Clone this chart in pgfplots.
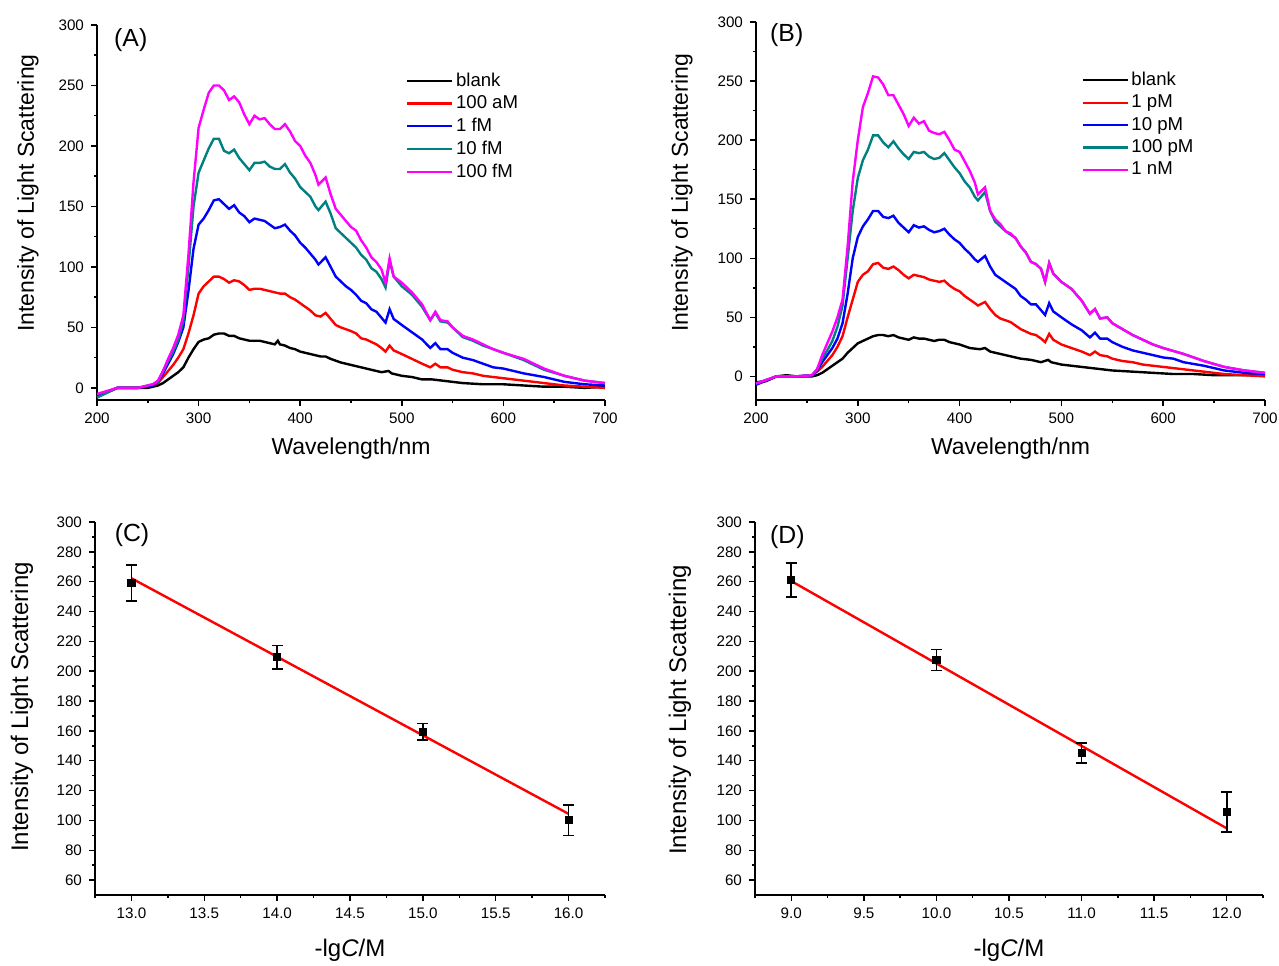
\documentclass[border=0pt]{standalone}
\usepackage{fontspec}
\setmainfont{Liberation Sans}
\usepackage{pgfplots}
\pgfplotsset{compat=1.18}

\definecolor{cteal}{RGB}{0,128,128}
\definecolor{cmag}{RGB}{255,0,255}

\pgfplotsset{
  panel/.style={
    scale only axis,
    axis lines=left,
    axis line style={-, line width=0.75pt, black},
    tick align=outside,
    tick style={black, line width=0.75pt},
    major tick length=3pt,
    minor tick length=1.6pt,
    minor x tick num=1,
    minor y tick num=1,
    enlargelimits=false,
    /pgf/number format/assume math mode=true,
    tick label style={font=\fontsize{7.6}{8}\selectfont},
    label style={font=\fontsize{11.5}{13}\selectfont},
    ylabel={Intensity of Light Scattering},
    clip=false,
  },
  spec/.style={
    panel,
    xmin=200, xmax=700, xtick={200,300,...,700},
    ytick={0,50,...,300},
    xlabel={Wavelength/nm},
    legend style={draw=none, fill=none, inner sep=0pt, row sep=2pt,
      font=\fontsize{9.3}{10}\selectfont, nodes={inner ysep=0.6pt, inner xsep=1.2pt}},
    legend cell align=left,
    legend image code/.code={\draw[##1, line width=1.2pt] (0pt,0pt) -- (22.5pt,0pt);},
  },
  calib/.style={
    panel,
    ymin=50, ymax=300, ytick={60,80,...,300},
    xtick distance=0.5,
    xticklabel style={/pgf/number format/.cd, fixed, fixed zerofill, precision=1},
    xlabel={-lg\textit{C}/M},
    label style={font=\fontsize{12}{14}\selectfont},
  },
  sline/.style={line width=1.2pt},
  pts/.style={only marks, mark=square*, mark size=1.8pt, black,
    error bars/.cd, y dir=both, y explicit,
    error bar style={line width=0.85pt, black},
    error mark options={rotate=90, mark size=2.8pt, line width=0.85pt, black}},
}

\begin{document}
\begin{tikzpicture}
\useasboundingbox (0,0) rectangle (639.5pt,-482.5pt);

% ---------------- (A)
\begin{axis}[spec, at={(48.5pt,-12.5pt)}, anchor=north west,
  width=254pt, height=187.5pt, ymin=-10, ymax=300,
  ylabel style={at={([xshift=-34.5pt]axis description cs:0,0.552)}, anchor=center},
  xlabel style={at={([yshift=-24.5pt]axis description cs:0.5,0)}, anchor=center},
  legend style={at={(0.608,0.877)}, anchor=north west}]
\addplot[sline, black] coordinates {(200,-7) (210,-3) (220,0) (230,0) (240,0) (250,0) (255,1) (260,2) (265,4) (270,7) (275,10) (280,13) (285,17) (290,25) (295,32) (300,38) (305,40) (310,41) (315,44) (320,45) (325,45) (330,43) (335,43) (340,41) (345,40) (350,39) (355,39) (360,39) (365,38) (370,37) (375,36) (378,39) (380,36) (385,35) (390,33) (395,32) (400,30) (410,28) (420,26) (425,26) (430,24) (440,21) (450,19) (460,17) (470,15) (480,13) (487,14) (490,12) (500,10) (510,9) (520,7) (530,7) (540,6) (550,5) (560,4) (580,3) (600,3) (620,2) (640,1) (660,1) (680,0) (700,1)};
\addplot[sline, red] coordinates {(200,-7) (220,0) (240,0) (255,2) (260,4) (265,9) (270,14) (275,19) (280,25) (285,32) (290,45) (295,60) (300,78) (305,84) (310,88) (315,92) (320,92) (325,90) (330,87) (335,89) (340,88) (345,85) (350,81) (355,82) (360,82) (365,81) (370,80) (375,79) (380,78) (385,78) (390,75) (395,73) (400,70) (405,67) (410,64) (415,60) (420,59) (425,62) (430,57) (435,52) (440,50) (450,47) (455,45) (460,41) (465,40) (470,38) (475,36) (480,33) (484,30) (488,35) (492,31) (500,28) (510,24) (520,20) (528,17) (533,20) (538,17) (545,17) (550,15) (560,13) (570,12) (580,10) (600,8) (620,6) (640,4) (660,2) (680,1) (700,0)};
\addplot[sline, blue] coordinates {(200,-7) (220,0) (240,0) (255,2) (260,5) (265,12) (270,20) (275,28) (280,38) (285,50) (290,80) (295,115) (300,135) (305,140) (310,147) (315,155) (320,156) (325,152) (330,148) (335,151) (340,145) (345,142) (350,137) (355,140) (360,139) (365,138) (370,135) (375,132) (380,133) (385,135) (390,130) (395,126) (400,120) (405,116) (410,111) (415,106) (418,102) (425,108) (430,100) (435,92) (440,88) (445,84) (450,81) (455,77) (460,72) (465,70) (470,65) (475,63) (480,58) (484,54) (488,65) (492,57) (500,52) (510,46) (520,40) (528,33) (533,37) (538,32) (545,32) (550,29) (560,25) (570,23) (580,20) (590,17) (600,16) (620,12) (640,9) (660,5) (680,3) (700,2)};
\addplot[sline, cteal] coordinates {(200,-8) (220,0) (240,0) (255,3) (260,5) (265,14) (270,22) (275,30) (280,40) (285,55) (290,100) (295,150) (300,178) (305,188) (310,198) (315,206) (320,206) (325,196) (330,194) (335,197) (340,190) (345,185) (350,180) (355,186) (360,186) (365,187) (370,183) (375,181) (380,181) (385,185) (390,178) (395,173) (400,166) (405,162) (410,158) (415,150) (418,147) (425,154) (430,144) (435,132) (440,128) (445,124) (450,120) (455,116) (460,110) (465,106) (470,99) (475,96) (480,90) (484,83) (488,105) (492,92) (500,84) (510,77) (520,67) (528,56) (533,62) (538,55) (545,54) (550,50) (560,42) (570,39) (580,35) (590,32) (600,29) (620,23) (640,15) (660,10) (680,6) (700,4)};
\addplot[sline, cmag] coordinates {(200,-5) (220,0) (240,0) (255,3) (260,6) (265,14) (270,24) (275,33) (280,44) (285,60) (290,110) (295,170) (300,215) (305,230) (310,244) (315,250) (320,250) (325,246) (330,238) (335,241) (340,236) (345,226) (350,218) (355,225) (360,222) (365,223) (370,218) (375,214) (380,214) (385,218) (390,212) (395,204) (400,200) (405,192) (410,186) (415,176) (418,168) (425,174) (430,160) (435,148) (440,143) (445,138) (450,133) (455,130) (460,122) (465,116) (470,108) (475,104) (480,98) (484,87) (488,107) (492,92) (500,87) (510,79) (520,69) (528,56) (533,63) (538,56) (545,55) (550,50) (560,43) (570,40) (580,36) (590,32) (600,29) (620,24) (640,16) (660,10) (680,6) (700,4)};
\legend{blank, 100 aM, 1 fM, 10 fM, 100 fM}
\node[anchor=west, font=\fontsize{12.4}{14}\selectfont] at (rel axis cs:0.02,0.96) {(A)};
\end{axis}

% ---------------- (B)
\begin{axis}[spec, at={(378pt,-11pt)}, anchor=north west,
  width=254.5pt, height=189pt, ymin=-20, ymax=300,
  ylabel style={at={([xshift=-37pt]axis description cs:0,0.548)}, anchor=center},
  xlabel style={at={([yshift=-24.5pt]axis description cs:0.5,0)}, anchor=center},
  legend style={at={(0.639,0.872)}, anchor=north west}]
\addplot[sline, black] coordinates {(200,-5) (210,-4) (220,0) (230,1) (240,0) (255,0) (260,1) (265,3) (270,6) (275,9) (280,12) (285,15) (290,20) (295,24) (300,28) (305,30) (310,32) (315,34) (320,35) (325,35) (330,34) (335,35) (340,33) (345,32) (350,31) (355,33) (360,32) (365,32) (370,31) (375,30) (380,31) (385,31) (390,29) (400,27) (410,24) (420,23) (425,24) (430,21) (440,19) (450,17) (460,15) (470,14) (480,12) (487,14) (490,12) (500,10) (510,9) (520,8) (530,7) (540,6) (550,5) (570,4) (590,3) (610,2) (630,2) (650,1) (680,1) (700,1)};
\addplot[sline, red] coordinates {(200,-7) (220,0) (240,0) (255,1) (260,4) (265,8) (270,13) (275,18) (280,25) (285,34) (290,50) (295,65) (300,80) (305,86) (310,89) (315,95) (320,96) (325,92) (330,91) (335,93) (340,90) (345,86) (350,83) (355,86) (360,85) (365,84) (370,82) (375,81) (380,80) (385,81) (390,77) (395,74) (400,72) (405,68) (410,65) (415,62) (418,60) (425,63) (430,57) (435,52) (440,49) (450,46) (455,43) (460,40) (470,36) (475,35) (480,32) (484,29) (488,36) (492,31) (500,27) (510,24) (520,21) (528,18) (533,21) (538,18) (545,17) (550,15) (560,13) (570,12) (580,10) (600,8) (620,6) (640,4) (660,2) (680,1) (700,0)};
\addplot[sline, blue] coordinates {(200,-7) (220,0) (240,0) (255,1) (260,5) (265,12) (270,18) (275,24) (280,32) (285,45) (290,70) (295,100) (300,118) (305,127) (310,133) (315,140) (320,140) (325,135) (330,134) (335,136) (340,130) (345,126) (350,122) (355,128) (360,126) (365,127) (370,124) (375,122) (380,123) (385,125) (390,120) (395,116) (400,113) (405,108) (410,104) (415,99) (418,97) (425,102) (430,93) (435,86) (440,83) (445,80) (450,77) (455,74) (460,68) (465,65) (470,61) (475,61) (480,56) (484,52) (488,62) (492,55) (500,50) (510,44) (520,39) (528,33) (533,37) (538,32) (545,32) (550,29) (560,25) (570,22) (580,20) (590,18) (600,16) (610,15) (620,12) (640,9) (660,5) (680,3) (700,2)};
\addplot[sline, cteal] coordinates {(200,-6) (220,0) (240,0) (255,1) (260,6) (265,15) (270,22) (275,30) (280,42) (285,60) (290,100) (295,140) (300,168) (305,183) (310,192) (315,204) (320,204) (325,198) (330,194) (335,199) (340,193) (345,188) (350,184) (355,190) (360,189) (365,190) (370,186) (375,184) (380,185) (385,189) (390,183) (395,177) (400,172) (405,165) (410,160) (415,152) (418,149) (425,156) (430,140) (435,131) (440,127) (445,123) (450,120) (455,117) (460,110) (465,105) (470,97) (475,95) (480,91) (484,80) (488,96) (492,87) (500,80) (510,74) (520,64) (528,53) (533,57) (538,49) (545,50) (550,45) (560,40) (570,35) (580,31) (590,27) (600,24) (620,19) (640,13) (660,8) (680,5) (700,3)};
\addplot[sline, cmag] coordinates {(200,-6) (220,0) (240,0) (255,1) (260,6) (265,18) (270,28) (275,38) (280,50) (285,65) (290,110) (295,165) (300,200) (305,228) (310,240) (315,254) (320,253) (325,247) (330,238) (335,238) (340,230) (345,222) (350,212) (355,219) (360,214) (365,216) (370,208) (375,206) (380,205) (385,207) (390,200) (395,192) (400,190) (405,182) (410,174) (415,164) (418,154) (425,160) (430,140) (435,133) (440,129) (445,123) (450,121) (455,117) (460,110) (465,105) (470,97) (475,95) (480,91) (484,80) (488,96) (492,87) (500,80) (510,74) (520,64) (528,53) (533,57) (538,49) (545,50) (550,45) (560,40) (570,35) (580,31) (590,27) (600,24) (620,19) (640,13) (660,8) (680,5) (700,3)};
\legend{blank, 1 pM, 10 pM, 100 pM, 1 nM}
\node[anchor=west, font=\fontsize{12.4}{14}\selectfont] at (rel axis cs:0.014,0.966) {(B)};
\end{axis}

% ---------------- (C)
\begin{axis}[calib, at={(47.5pt,-261pt)}, anchor=north west,
  width=255pt, height=186.5pt, xmin=12.75, xmax=16.25,
  ylabel style={at={([xshift=-36.5pt]axis description cs:0,0.504)}, anchor=center},
  xlabel style={at={([yshift=-27.5pt]axis description cs:0.5,0)}, anchor=center}]
\addplot[red, line width=1.2pt] coordinates {(13,262.3) (16,104.4)};
\addplot[pts] coordinates {(13,259) +- (0,12) (14,209.5) +- (0,7.8) (15,159.4) +- (0,5.6) (16,100.2) +- (0,10.3)};
\node[anchor=west, font=\fontsize{12.4}{14}\selectfont] at (rel axis cs:0.025,0.965) {(C)};
\end{axis}

% ---------------- (D)
\begin{axis}[calib, at={(377.5pt,-261pt)}, anchor=north west,
  width=254pt, height=186.5pt, xmin=8.75, xmax=12.25,
  ylabel style={at={([xshift=-37.5pt]axis description cs:0,0.496)}, anchor=center},
  xlabel style={at={([yshift=-27.5pt]axis description cs:0.5,0)}, anchor=center}]
\addplot[red, line width=1.2pt] coordinates {(9,260.4) (12,94.7)};
\addplot[pts] coordinates {(9,261.3) +- (0,11.4) (10,207.5) +- (0,7) (11,145.2) +- (0,6.8) (12,105.8) +- (0,13.4)};
\node[anchor=west, font=\fontsize{12.4}{14}\selectfont] at (rel axis cs:0.016,0.96) {(D)};
\end{axis}
\end{tikzpicture}
\end{document}
